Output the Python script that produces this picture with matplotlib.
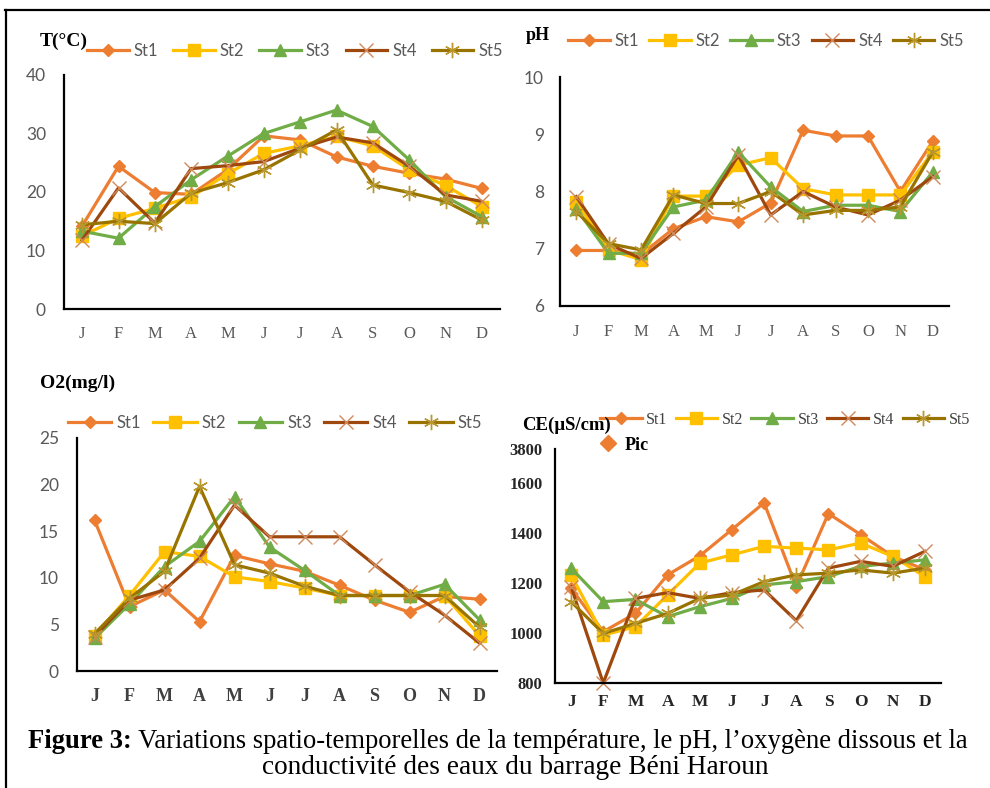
import matplotlib
matplotlib.use('Agg')
import matplotlib.pyplot as plt
from matplotlib.lines import Line2D

W, H = 990, 788

months = ['J', 'F', 'M', 'A', 'M', 'J', 'J', 'A', 'S', 'O', 'N', 'D']
stations = ['St1', 'St2', 'St3', 'St4', 'St5']

# Temperature (°C)
temp_st1 = [14.2, 24.4, 19.9, 19.6, 23.8, 29.6, 28.9, 26.0, 24.4, 23.2, 22.2, 20.6]
temp_st2 = [12.5, 15.5, 17.2, 19.2, 23.1, 26.6, 27.9, 29.5, 27.9, 23.8, 21.1, 17.5]
temp_st3 = [13.3, 12.1, 17.5, 22.1, 26.1, 30.0, 32.0, 34.0, 31.2, 25.5, 19.2, 15.8]
temp_st4 = [11.8, 20.7, 14.7, 24.0, 24.5, 25.2, 27.5, 29.4, 28.4, 24.4, 19.5, 18.4]
temp_st5 = [14.4, 15.0, 14.6, 19.8, 21.6, 23.8, 27.2, 30.6, 21.2, 19.9, 18.4, 15.2]

# pH
ph_st1 = [6.97, 6.97, 6.90, 7.35, 7.56, 7.47, 7.80, 9.07, 8.97, 8.97, 8.00, 8.88]
ph_st2 = [7.82, 6.98, 6.81, 7.92, 7.92, 8.46, 8.59, 8.05, 7.94, 7.94, 7.94, 8.69]
ph_st3 = [7.70, 6.92, 6.92, 7.73, 7.85, 8.69, 8.08, 7.65, 7.76, 7.76, 7.65, 8.34]
ph_st4 = [7.91, 7.08, 6.83, 7.27, 7.73, 8.63, 7.59, 8.00, 7.73, 7.59, 7.85, 8.26]
ph_st5 = [7.65, 7.09, 6.98, 7.94, 7.79, 7.79, 8.00, 7.59, 7.67, 7.67, 7.73, 8.69]

# Dissolved oxygen (mg/l)
o2_st1 = [16.2, 6.9, 8.7, 5.3, 12.4, 11.5, 10.7, 9.2, 7.6, 6.3, 8.0, 7.7]
o2_st2 = [3.8, 8.1, 12.8, 12.3, 10.1, 9.6, 8.9, 8.1, 8.1, 8.1, 8.1, 3.8]
o2_st3 = [3.5, 7.2, 11.2, 13.9, 18.7, 13.3, 10.8, 8.1, 8.1, 8.1, 9.3, 5.5]
o2_st4 = [3.7, 7.6, 8.7, 12.1, 17.8, 14.4, 14.4, 14.4, 11.4, 8.5, 6.0, 3.0]
o2_st5 = [4.0, 7.8, 10.7, 19.8, 11.4, 10.5, 9.1, 8.1, 8.1, 8.1, 8.1, 4.7]

# Conductivity (µS/cm)
ce_st1 = [1179, 1005, 1078, 1232, 1308, 1413, 1520, 1185, 1477, 1393, 1306, 1252]
ce_st2 = [1232, 991, 1025, 1152, 1279, 1312, 1346, 1339, 1332, 1359, 1306, 1225]
ce_st3 = [1259, 1125, 1134, 1065, 1105, 1138, 1192, 1205, 1225, 1266, 1279, 1292]
ce_st4 = [1185, 800, 1138, 1161, 1138, 1161, 1172, 1049, 1259, 1286, 1266, 1326]
ce_st5 = [1125, 998, 1038, 1078, 1138, 1152, 1205, 1232, 1239, 1252, 1239, 1259]

ce_ticks = [800, 1000, 1200, 1400, 1600, 1735]
ce_ticklabels = ['800', '1000', '1200', '1400', '1600', '3800']

colors = ['#ED7D31', '#FFC000', '#70AD47', '#9E480E', '#997300']
edgecols = ['#ED7D31', '#FFC000', '#70AD47', '#D0895A', '#B8982E']
markers = ['D', 's', '^', 'x', (6, 2, 0)]
msizes = [6, 9, 8, 10, 11]

GRAY = '#595959'
SANS = 'Lato'
SERIF = 'Liberation Serif'


def rect(l, t, r, b):
    return [l / W, 1 - b / H, (r - l) / W, (b - t) / H]


def draw_panel(ax, series, ylim, yticks):
    x = list(range(12))
    for i, s in enumerate(series):
        ax.plot(x, s, color=colors[i], lw=2.3, marker=markers[i], ms=msizes[i],
                mfc=colors[i], mec=edgecols[i], mew=1, label=stations[i],
                clip_on=False)
    ax.set_xlim(-0.5, 11.5)
    ax.set_ylim(*ylim)
    ax.set_yticks(yticks)
    ax.set_xticks(x)
    ax.set_xticklabels(months)
    for sp in ['top', 'right']:
        ax.spines[sp].set_visible(False)
    for sp in ['left', 'bottom']:
        ax.spines[sp].set_linewidth(1.6)
        ax.spines[sp].set_color('black')
    ax.tick_params(length=0)


def add_legend(ax, x, y, fontdict, hl, cs, color=GRAY):
    leg = ax.legend(loc='center left', bbox_to_anchor=(x / W, 1 - y / H),
                    bbox_transform=fig.transFigure, ncol=5, frameon=False,
                    borderpad=0, borderaxespad=0, handlelength=hl,
                    handletextpad=0.3, columnspacing=cs, prop=fontdict)
    for t in leg.get_texts():
        t.set_color(color)
    return leg


fig = plt.figure(figsize=(W / 100, H / 100), dpi=100)

# cadre
fig.add_artist(Line2D([5 / W, 1], [1 - 10 / H, 1 - 10 / H], color='black', lw=1.6,
                      transform=fig.transFigure))
fig.add_artist(Line2D([6 / W, 6 / W], [0, 1 - 10 / H], color='black', lw=1.6,
                      transform=fig.transFigure))

# ---- Temperature
ax1 = fig.add_axes(rect(64, 75, 500, 309))
draw_panel(ax1, [temp_st1, temp_st2, temp_st3, temp_st4, temp_st5], (0, 40),
           [0, 10, 20, 30, 40])
ax1.tick_params(axis='y', pad=13, labelcolor=GRAY)
ax1.tick_params(axis='x', pad=12, labelcolor=GRAY)
for t in ax1.get_yticklabels():
    t.set_fontfamily(SANS); t.set_fontsize(12.5)
for t in ax1.get_xticklabels():
    t.set_fontfamily(SERIF); t.set_fontsize(12)
add_legend(ax1, 87, 51, {'family': SANS, 'size': 12}, 2.5, 0.9)
fig.text(40 / W, 1 - 41 / H, 'T(°C)', family=SERIF, weight='bold', size=14,
         va='center', ha='left')

# ---- pH
ax2 = fig.add_axes(rect(560, 77, 949, 306))
draw_panel(ax2, [ph_st1, ph_st2, ph_st3, ph_st4, ph_st5], (6, 10),
           [6, 7, 8, 9, 10])
ax2.tick_params(axis='y', pad=11.5, labelcolor=GRAY)
ax2.tick_params(axis='x', pad=13, labelcolor=GRAY)
for t in ax2.get_yticklabels():
    t.set_fontfamily(SANS); t.set_fontsize(12.5)
for t in ax2.get_xticklabels():
    t.set_fontfamily(SERIF); t.set_fontsize(12)
add_legend(ax2, 568, 41, {'family': SANS, 'size': 12}, 2.5, 0.6)
fig.text(526 / W, 1 - 35 / H, 'pH', family=SERIF, weight='bold', size=13,
         va='center', ha='left')

# ---- O2
ax3 = fig.add_axes(rect(77, 438, 497, 671))
draw_panel(ax3, [o2_st1, o2_st2, o2_st3, o2_st4, o2_st5], (0, 25),
           [0, 5, 10, 15, 20, 25])
ax3.tick_params(axis='y', pad=13, labelcolor=GRAY)
ax3.tick_params(axis='x', pad=12, labelcolor='#404040')
for t in ax3.get_yticklabels():
    t.set_fontfamily(SANS); t.set_fontsize(12.5)
for t in ax3.get_xticklabels():
    t.set_fontfamily(SERIF); t.set_fontsize(13); t.set_fontweight('bold')
add_legend(ax3, 68, 423, {'family': SANS, 'size': 12}, 2.6, 0.75)
fig.text(40 / W, 1 - 383 / H, 'O2(mg/l)', family=SERIF, weight='bold', size=14,
         va='center', ha='left')

# ---- Conductivity
ax4 = fig.add_axes(rect(555, 449, 941, 683))
draw_panel(ax4, [ce_st1, ce_st2, ce_st3, ce_st4, ce_st5], (800, 1735), ce_ticks)
ax4.set_yticklabels(ce_ticklabels)
ax4.tick_params(axis='y', pad=9, labelcolor='#262626')
ax4.tick_params(axis='x', pad=8, labelcolor='#262626')
for t in ax4.get_yticklabels():
    t.set_fontfamily(SERIF); t.set_fontsize(12); t.set_fontweight('bold')
for t in ax4.get_xticklabels():
    t.set_fontfamily(SERIF); t.set_fontsize(12.5); t.set_fontweight('bold')
leg4 = add_legend(ax4, 600, 420, {'family': SERIF, 'size': 11.5}, 2.6, 0.5,
                  color='#404040')
ax4.add_artist(leg4)
pic = Line2D([], [], color='none', marker='D', ms=8, mfc=colors[0], mec=colors[0])
ax4.legend([pic], ['Pic'], loc='center left', bbox_to_anchor=(599 / W, 1 - 445 / H),
           bbox_transform=fig.transFigure, frameon=False, borderpad=0,
           borderaxespad=0, handlelength=1.0, handletextpad=0.4,
           prop={'family': SERIF, 'size': 13, 'weight': 'bold'})
fig.text(522 / W, 1 - 425 / H, 'CE(µS/cm)', family=SERIF, weight='bold', size=13.5,
         va='center', ha='left')

# ---- legende de la figure
cap1 = fig.text(28 / W, 1 - 741 / H, 'Figure 3:', family=SERIF, weight='bold',
                size=19.2, va='center', ha='left')
plt.annotate(' Variations spatio-temporelles de la température, le pH, l’oxygène dissous et la',
             xy=(1, 0), xycoords=cap1, va='bottom', ha='left',
             family=SERIF, size=19.2, annotation_clip=False)
fig.text(515 / W, 1 - 768 / H, 'conductivité des eaux du barrage Béni Haroun',
         family=SERIF, size=19.6, va='center', ha='center')

fig.savefig('out.png', dpi=100)
